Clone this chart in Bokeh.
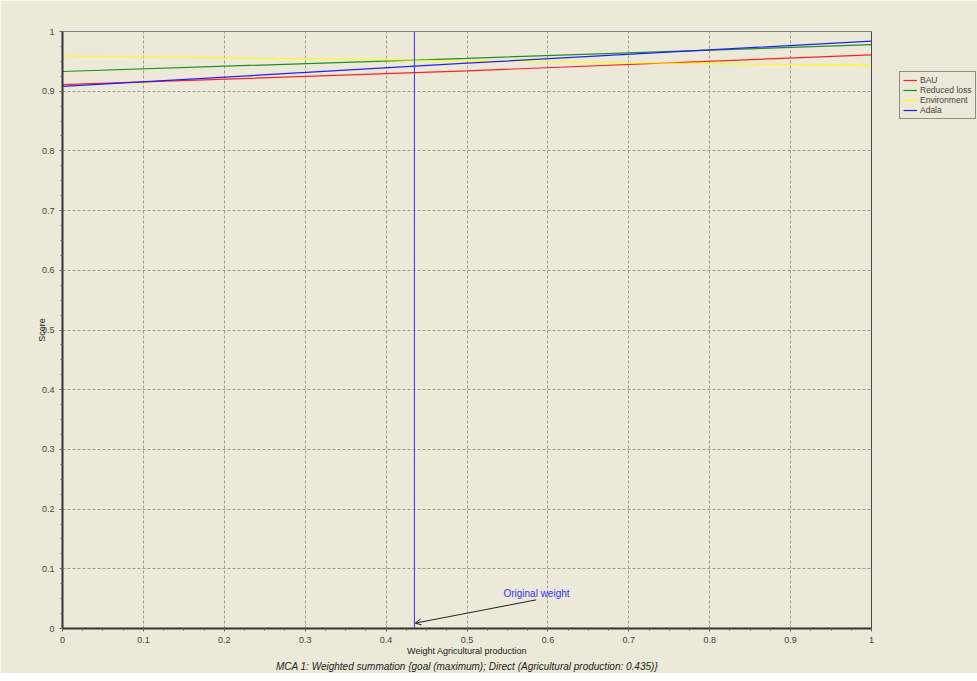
import numpy as np
from bokeh.plotting import figure
from bokeh.embed import file_html
from bokeh.resources import INLINE
from bokeh.models import (Range1d, FixedTicker, Legend, LegendItem, Label,
                          Arrow, OpenHead, Span, Title)

# ---- data ----
weights = [0.0, 0.5, 1.0]
bau = [0.911, 0.934, 0.961]
reduced_loss = [0.933, 0.955, 0.978]
environment = [0.959, 0.951, 0.943]
adala = [0.908, 0.947, 0.984]
series_names = ["BAU", "Reduced loss", "Environment", "Adala"]
series_colors = ["#ff2020", "#1f8f1f", "#ffff00", "#2020ff"]

original_weight = 0.435
tick_values = [0.0, 0.1, 0.2, 0.3, 0.4, 0.5, 0.6, 0.7, 0.8, 0.9, 1.0]
tick_labels = ["0", "0.1", "0.2", "0.3", "0.4", "0.5", "0.6", "0.7", "0.8", "0.9", "1"]
minor_values = [i / 40 for i in range(41)]

x_title = "Weight Agricultural production"
y_title = "Score"
caption = "MCA 1: Weighted summation {goal (maximum); Direct (Agricultural production: 0.435)}"
annot = "Original weight"

BG = "#ECE9D8"
FONT = "Liberation Sans"

p = figure(frame_width=809, frame_height=597, output_backend="svg", toolbar_location=None,
           x_range=Range1d(0, 1), y_range=Range1d(0, 1),
           min_border_left=62, min_border_right=98, min_border_top=31, min_border_bottom=45)
p.background_fill_color = BG
p.border_fill_color = BG
p.outline_line_color = "#808080"
p.outline_line_width = 1

for ax in (p.xaxis[0], p.yaxis[0]):
    ax.ticker = FixedTicker(ticks=tick_values, minor_ticks=minor_values)
    ax.major_label_overrides = dict(zip(tick_values, tick_labels))
    ax.axis_line_color = "#333333"
    ax.axis_line_width = 2
    ax.major_tick_in = 0
    ax.major_tick_out = 3
    ax.minor_tick_in = 0
    ax.minor_tick_out = 2
    ax.major_tick_line_color = "#666666"
    ax.minor_tick_line_color = "#666666"
    ax.major_label_text_font = FONT
    ax.major_label_text_font_size = "9px"
    ax.major_label_text_color = "#444444"
    ax.major_label_standoff = 5
    ax.axis_label_text_font = FONT
    ax.axis_label_text_font_size = "9px"
    ax.axis_label_text_font_style = "normal"
    ax.axis_label_text_color = "#222222"

p.xaxis.axis_label = x_title
p.xaxis.axis_label_standoff = 0
p.yaxis.axis_label = y_title
p.yaxis.axis_label_standoff = -8

for g in (p.xgrid[0], p.ygrid[0]):
    g.ticker = FixedTicker(ticks=tick_values)
    g.grid_line_color = "#9a9a9a"
    g.grid_line_dash = "3 2"
    g.grid_line_width = 1

renderers = []
for name, vals, col in zip(series_names, [bau, reduced_loss, environment, adala], series_colors):
    r = p.line(weights, vals, line_color=col, line_width=1.2)
    renderers.append(r)

p.add_layout(Span(location=1.0, dimension="height", line_color="#111111", line_width=1))
p.add_layout(Span(location=original_weight, dimension="height", line_color="#3333ff", line_width=1))

p.add_layout(Arrow(end=OpenHead(size=6, line_color="#222222", line_width=1),
                   x_start=0.5855, y_start=0.048, x_end=original_weight + 0.001, y_end=0.009,
                   line_color="#222222", line_width=1))
p.add_layout(Label(x=0.545, y=0.058, text=annot, text_color="#3333ff",
                   text_font=FONT, text_font_size="10px", text_baseline="middle"))

cap = Title(text=caption, align="center", text_font=FONT, text_font_size="10px",
            text_font_style="italic", text_color="#222222", standoff=0, offset=-12)
p.add_layout(cap, "below")

legend = Legend(items=[LegendItem(label=n, renderers=[r]) for n, r in zip(series_names, renderers)],
                location=(28, 509), orientation="vertical")
legend.label_text_font = FONT
legend.label_text_font_size = "8.5px"
legend.label_height = 10
legend.glyph_height = 10
legend.glyph_width = 14
legend.label_standoff = 3
legend.spacing = 0
legend.padding = 3
legend.margin = 0
legend.border_line_color = "#333333"
legend.border_line_width = 1
legend.background_fill_color = BG
legend.background_fill_alpha = 1.0
p.add_layout(legend, "right")

open("out.html", "w").write(file_html(p, INLINE))
